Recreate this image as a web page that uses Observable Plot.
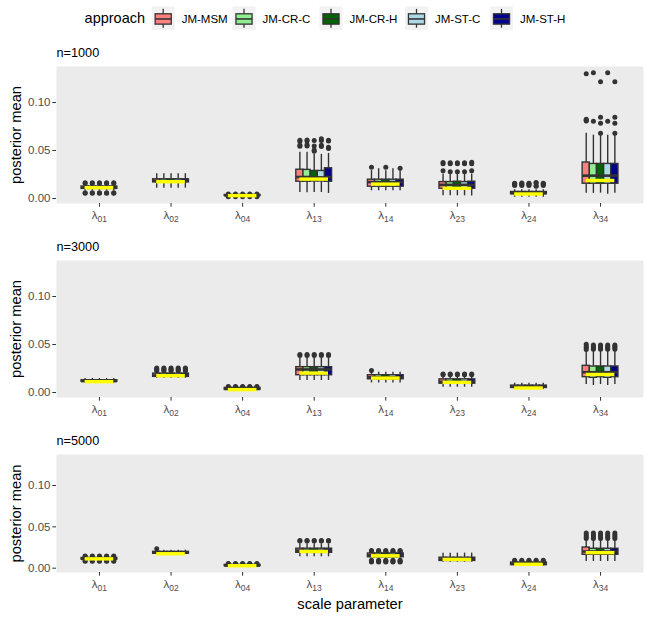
<!DOCTYPE html>
<html><head><meta charset="utf-8">
<script src="https://cdn.jsdelivr.net/npm/d3@7"></script>
<script src="https://cdn.jsdelivr.net/npm/@observablehq/plot@0.6"></script>
<style>
body{margin:0;background:#fff;font-family:"Liberation Sans",Arial,sans-serif;}
svg{display:block}
</style></head><body><div id="chart"></div>
<script>
// ---- data ----
const params = ["01","02","04","13","14","23","24","34"];
const approaches = ["JM-MSM","JM-CR-C","JM-CR-H","JM-ST-C","JM-ST-H"];
const fills = ["#FF7F7F","#90EE90","#006400","#ADD8E6","#00008B"];
const trueValue = [0.0113,0.0175,0.0030,0.0202,0.0150,0.0106,0.0047,0.0188];
const yTicks = [0, 0.05, 0.10];

// n = 1000 (scalar = same for all approaches, array = per approach)
const lo_1000  = [0.0082,0.0108,0.0022,[0.0063,0.0060,0.0063,0.0063,0.0053],0.0081,[0.0028,0.0028,0.0028,0.0028,0.0026],0.0012,[0.0056,0.0053,0.0056,0.0045,0.0056]];
const q1_1000  = [0.0100,0.0168,0.0027,[0.0175,0.0175,0.0178,0.0178,0.0175],0.0123,0.0102,0.0045,0.0154];
const med_1000 = [0.0113,0.0184,0.0032,[0.0224,0.0224,0.0222,0.0220,0.0224],0.0171,0.0142,0.0056,0.0238];
const q3_1000  = [0.0125,0.0200,0.0037,[0.0300,0.0298,0.0287,0.0287,0.0315],0.0196,[0.0171,0.0171,0.0175,0.0171,0.0175],0.0068,[0.0375,0.0360,0.0360,0.0360,0.0360]];
const hi_1000  = [0.0145,0.0258,0.0042,[0.0483,0.0483,0.0460,0.0460,0.0470],[0.029,0.031,0.029,0.031,0.029],0.0255,0.0092,[0.068,0.066,0.066,0.066,0.0675]];
const out_1000 = [
  [0.0056,0.0061,0.0157,0.0163],
  [],
  [0.0019,0.0046],
  [[0.0545,0.0556,0.0595,0.0606],[0.0548,0.0560,0.0600,0.0610],[0.0493,0.0505,0.0548,0.0605],[0.0542,0.0556,0.0605,0.0622],[0.0520,0.0535,0.0598,0.0606]],
  [[0.0326],[],[0.0326],[],[0.0315]],
  [[0.0290,0.0362,0.0375],[0.0280,0.0362,0.0372],[0.0280,0.0362,0.0372],[0.0280,0.0362,0.0372],[0.0290,0.0362,0.0378]],
  [[0.0135,0.0145,0.0155,0.0160],[0.0135,0.0145,0.0155,0.0162],[0.0135,0.0145,0.0155,0.0160],[0.0128,0.0133,0.0162,0.0166],[0.0135,0.0145,0.0155,0.0160]],
  [[0.0808,0.0815,0.0825,0.130],[0.0805,0.131],[0.068,0.0785,0.0847,0.1215],[0.0805,0.131],[0.068,0.0785,0.0847,0.1215]]
];

// n = 3000
const lo_3000  = [0.0098,0.0148,0.0022,0.0125,0.0100,0.0055,0.0035,[0.0083,0.0073,0.0083,0.0073,0.0083]];
const q1_3000  = [0.0112,0.0163,0.0028,0.0180,0.0138,0.0092,0.0048,[0.0160,0.0153,0.0160,0.0153,0.0160]];
const med_3000 = [0.0119,0.0178,0.0037,0.0240,0.0158,0.0112,0.0060,0.0211];
const q3_3000  = [0.0128,0.0197,0.0048,0.0264,0.0180,0.0137,0.0072,[0.0278,0.0271,0.0271,0.0271,0.0271]];
const hi_3000  = [0.0145,0.0215,0.0054,0.0355,0.0212,0.0162,0.0097,[0.0425,0.0435,0.0435,0.0435,0.0435]];
const out_3000 = [
  [],
  [0.0225,0.0235,0.0245,0.0255],
  [0.0058,0.0063],
  [0.0385,0.0395],
  [[0.0228],[],[],[],[]],
  [0.0185,0.0192],
  [],
  [[0.0448,0.0465,0.0480,0.0503],[0.0450,0.0465,0.0480,0.0495],[0.0450,0.0465,0.0480,0.0495],[0.0450,0.0465,0.0480,0.0495],[0.0450,0.0465,0.0480,0.0495]]
];

// n = 5000
const lo_5000  = [0.0095,0.0165,0.0018,0.0138,0.0122,0.0073,0.0030,0.0081];
const q1_5000  = [0.0105,0.0175,0.0025,0.0186,0.0132,0.0088,0.0038,0.0162];
const med_5000 = [0.0114,0.0188,0.0032,0.0213,0.0155,0.0105,0.0052,0.0202];
const q3_5000  = [0.0123,0.0198,0.0040,0.0236,0.0178,0.0127,0.0068,[0.0250,0.0235,0.0235,0.0235,0.0235]];
const hi_5000  = [0.0130,0.0218,0.0045,0.0295,0.0185,0.0182,0.0078,0.0335];
const out_5000 = [
  [0.0083,0.0090,0.0140,0.0147],
  [[0.0235],[],[],[],[]],
  [0.0052,0.0057],
  [0.0328,0.0336],
  [0.0075,0.0085,0.0095,0.0195,0.0205,0.0215],
  [],
  [0.0088,0.0095],
  [0.0360,0.0380,0.0400,0.0425]
];

// ---- build tables ----
const pick = (a, j) => Array.isArray(a) ? a[j] : a;
function outsOf(o, j) {
  if (o.length && Array.isArray(o[0])) return o[j];
  return o;
}
function buildBoxes(lo, q1, med, q3, hi) {
  const rows = [];
  params.forEach((p, i) => approaches.forEach((a, j) => {
    const x1 = (i + 1) - 0.25 + j * 0.1;
    rows.push({param: p, approach: a, x1, x2: x1 + 0.1, xc: x1 + 0.05,
      lo: pick(lo[i], j), q1: pick(q1[i], j), med: pick(med[i], j),
      q3: pick(q3[i], j), hi: pick(hi[i], j), fill: fills[j]});
  }));
  return rows;
}
function buildOut(out) {
  const rows = [];
  params.forEach((p, i) => approaches.forEach((a, j) => {
    const xc = (i + 1) - 0.25 + j * 0.1 + 0.05;
    outsOf(out[i], j).forEach(v => rows.push({xc, v}));
  }));
  return rows;
}
const truth = params.map((p, i) => ({x1: i + 1 - 0.2, x2: i + 1 + 0.2, v: trueValue[i]}));

const panels = [
  {title: "n=1000", boxes: buildBoxes(lo_1000,q1_1000,med_1000,q3_1000,hi_1000), outs: buildOut(out_1000), height: 195, mt: 26, mb: 32, xlab: false},
  {title: "n=3000", boxes: buildBoxes(lo_3000,q1_3000,med_3000,q3_3000,hi_3000), outs: buildOut(out_3000), height: 190, mt: 25, mb: 28, xlab: false},
  {title: "n=5000", boxes: buildBoxes(lo_5000,q1_5000,med_5000,q3_5000,hi_5000), outs: buildOut(out_5000), height: 195, mt: 29, mb: 48, xlab: true}
];

const root = document.getElementById("chart");

// ---- legend ----
(function legend() {
  const svg = d3.create("svg").attr("width", 651).attr("height", 40)
    .style("font-family", '"Liberation Sans", Arial, sans-serif');
  svg.append("text").attr("x", 84.6).attr("y", 23.3).attr("font-size", 14.5).attr("fill", "black").text("approach");
  const keyX = [151.7, 232.5, 319.5, 405, 490];
  approaches.forEach((a, j) => {
    const g = svg.append("g").attr("transform", `translate(${keyX[j]},6.5)`);
    const w = 23, h = 23.5;
    g.append("rect").attr("width", w).attr("height", h).attr("fill", "#F2F2F2");
    g.append("line").attr("x1", w/2).attr("x2", w/2).attr("y1", h*0.1).attr("y2", h*0.9).attr("stroke", "#333").attr("stroke-width", 1.3);
    g.append("rect").attr("x", w*0.15).attr("y", h*0.31).attr("width", w*0.7).attr("height", h*0.44)
      .attr("fill", fills[j]).attr("stroke", "#333").attr("stroke-width", 1.3);
    g.append("line").attr("x1", w*0.15).attr("x2", w*0.85).attr("y1", h*0.53).attr("y2", h*0.53).attr("stroke", "#333").attr("stroke-width", 1.6);
    svg.append("text").attr("x", keyX[j] + 30).attr("y", 22.6).attr("font-size", 11.5).attr("fill", "black").text(a);
  });
  root.appendChild(svg.node());
})();

// ---- panels ----
panels.forEach(pn => {
  const marks = [
    Plot.frame({fill: "#EBEBEB", stroke: null}),
    Plot.dot(pn.outs, {x: "xc", y: "v", r: 2.5, fill: "#333333", stroke: null}),
    Plot.ruleX(pn.boxes, {x: "xc", y1: "q3", y2: "hi", stroke: "#333333", strokeWidth: 1.4}),
    Plot.ruleX(pn.boxes, {x: "xc", y1: "lo", y2: "q1", stroke: "#333333", strokeWidth: 1.4}),
    Plot.rect(pn.boxes, {x1: "x1", x2: "x2", y1: "q1", y2: "q3", fill: "fill", stroke: "#333333", strokeWidth: 1.4}),
    Plot.ruleY(pn.boxes, {y: "med", x1: "x1", x2: "x2", stroke: "#333333", strokeWidth: 2.6}),
    Plot.ruleY(truth, {y: "v", x1: "x1", x2: "x2", stroke: "#FFFF00", strokeWidth: 3.4}),
    Plot.axisY({ticks: yTicks, tickFormat: d3.format(".2f"), tickSize: 3.7, tickPadding: 2.3, fontSize: 11.5, label: null, stroke: "#333333", fill: "#4D4D4D"}),
    Plot.axisX({ticks: [1,2,3,4,5,6,7,8], tickFormat: i => params[i - 1], tickSize: 3.7, tickPadding: 4, fontSize: 11.5, label: null, stroke: "#333333", fill: "#4D4D4D"}),
    Plot.text([pn.title], {text: d => d, frameAnchor: "top-left", textAnchor: "start", lineAnchor: "bottom", dy: -9.5, fontSize: 12.7, fill: "black"}),
    Plot.text(["posterior mean"], {text: d => d, frameAnchor: "left", rotate: -90, textAnchor: "middle", lineAnchor: "middle", dx: -40.5, fontSize: 14.7, fill: "black"})
  ];
  if (pn.xlab) marks.push(Plot.text(["scale parameter"], {text: d => d, frameAnchor: "bottom", textAnchor: "middle", lineAnchor: "bottom", dy: 36, fontSize: 14.7, fill: "black"}));
  const chart = Plot.plot({
    width: 651, height: pn.height,
    marginLeft: 56, marginRight: 8, marginTop: pn.mt, marginBottom: pn.mb,
    style: {fontFamily: '"Liberation Sans", Arial, sans-serif', background: "white", color: "#333333"},
    x: {type: "linear", domain: [0.4, 8.6]},
    y: {domain: [-0.0052, 0.1375]},
    color: {type: "identity"},
    marks
  });
  // subscripted lambda labels
  d3.select(chart).selectAll('g[aria-label="x-axis tick label"] text').each(function() {
    const sub = this.textContent;
    this.textContent = "";
    const t = d3.select(this);
    t.append("tspan").text("λ");
    t.append("tspan").attr("font-size", 8.5).attr("dy", 2.5).text(sub);
  });
  root.appendChild(chart);
});
</script></body></html>
